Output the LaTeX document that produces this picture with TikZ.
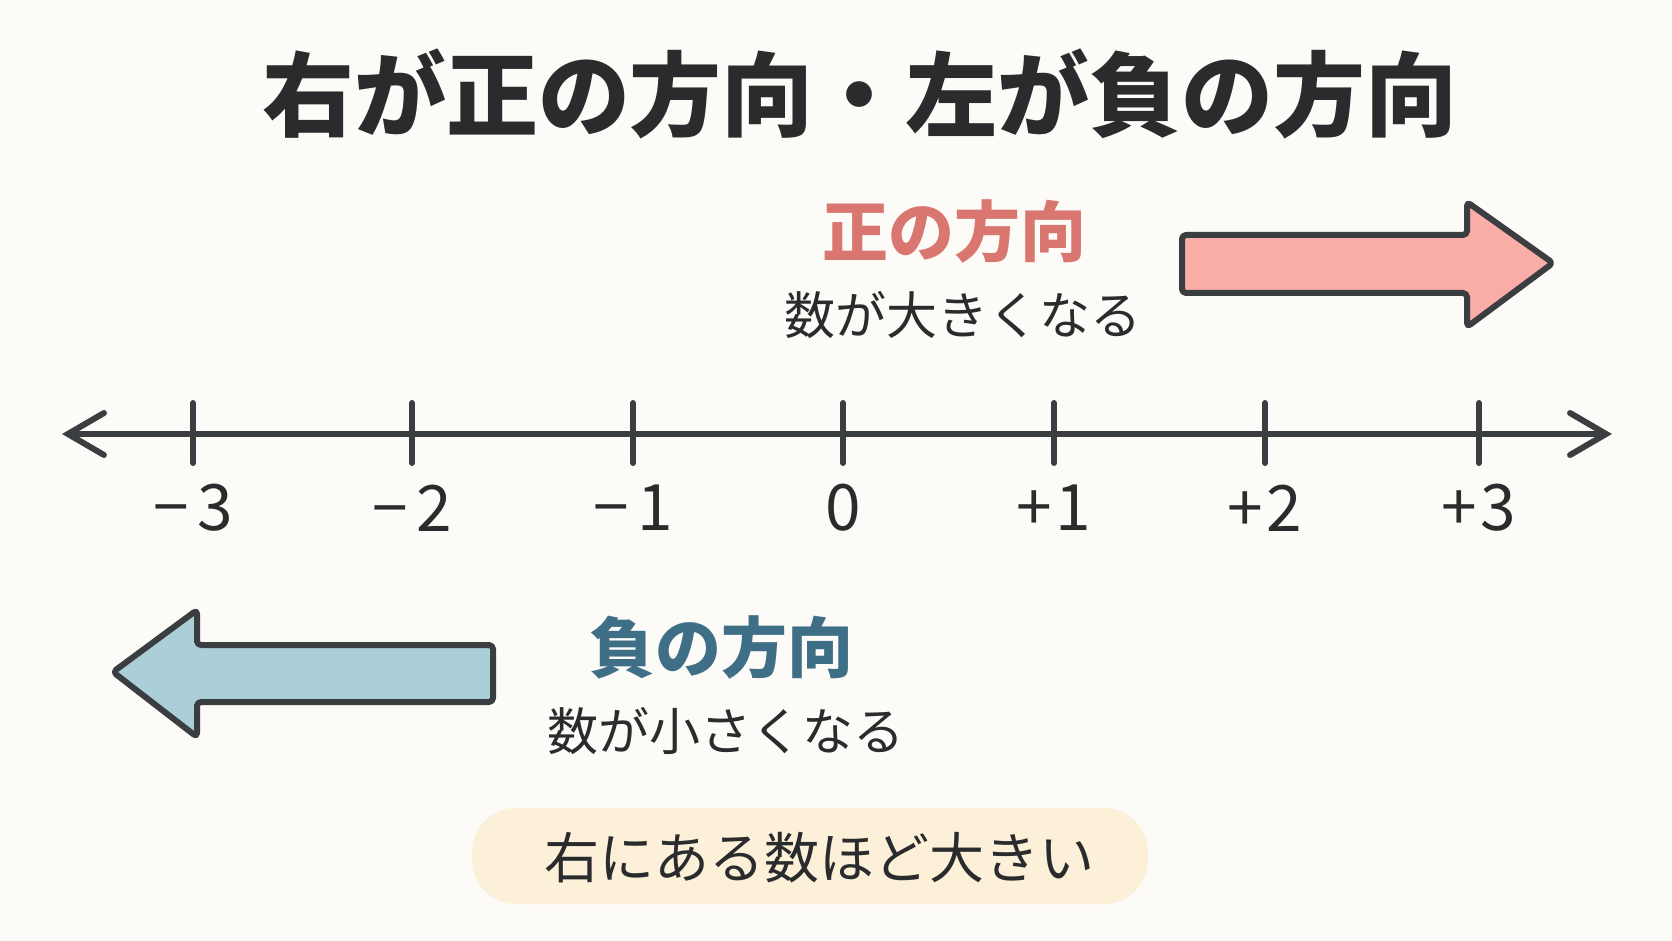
\documentclass[tikz,border=0pt]{standalone}
\usepackage{fontspec}
\usetikzlibrary{arrows.meta}
\newfontfamily\jpfont{Noto Sans CJK JP}
\definecolor{bgcol}{HTML}{FDFBF7}
\definecolor{inkcol}{HTML}{2A2B2D}
\definecolor{strokecol}{HTML}{3B3E41}
\definecolor{pinkfill}{HTML}{F9ADA6}
\definecolor{bluefill}{HTML}{ABCFD9}
\definecolor{pinktext}{HTML}{D8766F}
\definecolor{bluetext}{HTML}{3F6F86}
\definecolor{notefill}{HTML}{FCF0D9}
\tikzset{
  bigarrow/.style={draw=strokecol, line width=3pt, rounded corners=2pt, line join=round},
  axisline/.style={draw=strokecol, line width=3pt, line cap=round},
  tickmark/.style={draw=strokecol, line width=3pt, line cap=round},
  numlabel/.style={font=\jpfont\fontsize{32}{36}\selectfont, text=inkcol, inner sep=0pt},
  titletext/.style={font=\jpfont\bfseries\fontsize{46}{50}\selectfont, text=inkcol, inner sep=0pt},
  dirtext/.style={font=\jpfont\bfseries\fontsize{33}{38}\selectfont, inner sep=0pt},
  subtext/.style={font=\jpfont\fontsize{25.5}{30}\selectfont, text=inkcol, inner sep=0pt},
  notetext/.style={font=\jpfont\fontsize{27.5}{32}\selectfont, text=inkcol, inner sep=0pt},
}
\begin{document}
\begin{tikzpicture}[x=0.5pt,y=-0.5pt]
\fill[bgcol] (0,0) rectangle (1672,941);
\useasboundingbox (0,0) rectangle (1672,941);

% title
\node[titletext] (title) at (860,94) {右が正の方向・左が負の方向};

% positive direction
\node[dirtext, text=pinktext] (poslab) at (954,232) {正の方向};
\node[subtext] (possub) at (963,315) {数が大きくなる};
\draw[bigarrow, fill=pinkfill] (1182,235) -- (1467,235) -- (1467,202) -- (1553,263) -- (1467,327) -- (1467,293) -- (1182,293) -- cycle;

% number line
\coordinate (axL) at (62,434);
\coordinate (axR) at (1612,434);
\draw[axisline, {Straight Barb[length=18pt,width=21pt,line cap=round]}-{Straight Barb[length=18pt,width=21pt,line cap=round]}] (axL) -- (axR);
\foreach \x/\lab/\nm in {193/{−\hspace{4pt}3}/m3, 412/{−\hspace{4pt}2}/m2, 633/{−\hspace{4pt}1}/m1, 843/{0}/z, 1054/{+\hspace{2pt}1}/p1, 1265/{+\hspace{2pt}2}/p2, 1479/{+\hspace{2pt}3}/p3}{
  \coordinate (t\nm a) at (\x,403);
  \coordinate (t\nm b) at (\x,463);
  \draw[tickmark] (t\nm a) -- (t\nm b);
  \node[numlabel] (l\nm) at (\x,508) {\lab};
}

% negative direction
\draw[bigarrow, fill=bluefill] (493,645) -- (197,645) -- (197,610) -- (113,672) -- (197,737) -- (197,702) -- (493,702) -- cycle;
\node[dirtext, text=bluetext] (neglab) at (721,648) {負の方向};
\node[subtext] (negsub) at (726,731) {数が小さくなる};

% note
\fill[notefill, rounded corners=22pt] (472,808) rectangle (1148,904);
\node[notetext] (note) at (819,858) {右にある数ほど大きい};
\end{tikzpicture}
\end{document}
